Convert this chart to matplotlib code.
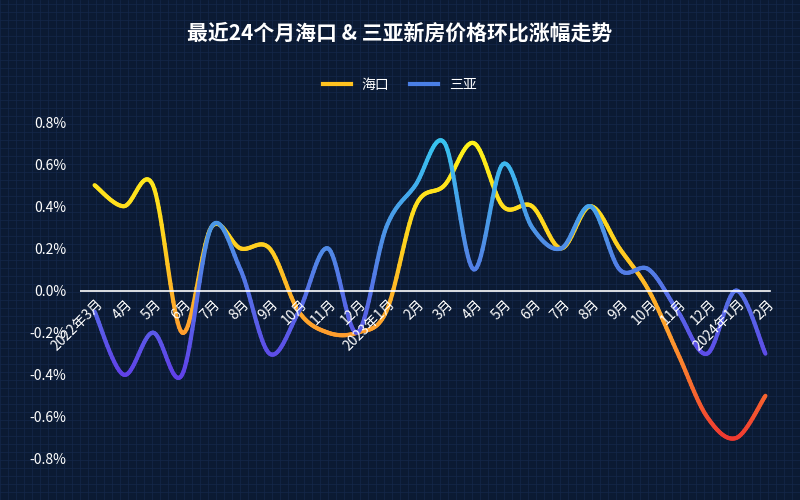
import numpy as np
import matplotlib
matplotlib.use('Agg')
import matplotlib.pyplot as plt
from matplotlib.collections import LineCollection
from matplotlib.colors import LinearSegmentedColormap
from matplotlib.lines import Line2D

plt.rcParams['font.family'] = ['Noto Sans CJK SC', 'DejaVu Sans']

months = ['2022年3月', '4月', '5月', '6月', '7月', '8月', '9月', '10月', '11月', '12月',
          '2023年1月', '2月', '3月', '4月', '5月', '6月', '7月', '8月', '9月', '10月', '11月', '12月',
          '2024年1月', '2月']
haikou = [0.5, 0.4, 0.5, -0.2, 0.3, 0.2, 0.2, -0.1, -0.2, -0.2, -0.1, 0.4, 0.5, 0.7,
          0.4, 0.4, 0.2, 0.4, 0.2, 0.0, -0.3, -0.6, -0.7, -0.5]
sanya = [-0.1, -0.4, -0.2, -0.4, 0.3, 0.1, -0.3, -0.1, 0.2, -0.2, 0.3, 0.5, 0.7, 0.1,
         0.6, 0.3, 0.2, 0.4, 0.1, 0.1, -0.1, -0.3, 0.0, -0.3]
yticks = [-0.8, -0.6, -0.4, -0.2, 0.0, 0.2, 0.4, 0.6, 0.8]

bg = '#0b1a33'


def smooth(x, y, n=20):
    # catmull-rom 插值
    x = np.asarray(x, float); y = np.asarray(y, float)
    px = np.concatenate([[x[0]], x, [x[-1]]])
    py = np.concatenate([[y[0]], y, [y[-1]]])
    xs, ys = [], []
    t = np.linspace(0, 1, n, endpoint=False)
    for i in range(1, len(px) - 2):
        for arr, out in ((px, xs), (py, ys)):
            p0, p1, p2, p3 = arr[i - 1], arr[i], arr[i + 1], arr[i + 2]
            out.extend(0.5 * (2 * p1 + (-p0 + p2) * t + (2 * p0 - 5 * p1 + 4 * p2 - p3) * t ** 2
                              + (-p0 + 3 * p1 - 3 * p2 + p3) * t ** 3))
    xs.append(x[-1]); ys.append(y[-1])
    return np.array(xs), np.array(ys)


def grad_line(ax, x, y, cmap):
    sx, sy = smooth(x, y)
    pts = np.column_stack([sx, sy]).reshape(-1, 1, 2)
    segs = np.concatenate([pts[:-1], pts[1:]], axis=1)
    lc = LineCollection(segs, cmap=cmap, norm=plt.Normalize(-0.7, 0.7), linewidth=3,
                        capstyle='round', joinstyle='round', clip_on=False)
    lc.set_array((sy[:-1] + sy[1:]) / 2)
    ax.add_collection(lc)


fig = plt.figure(figsize=(8, 5), dpi=100, facecolor=bg)
ax = fig.add_axes([0.1, 0.082, 0.875, 0.674])
ax.patch.set_alpha(0)

# 背景网格纹理
for v in np.arange(0, 1, 0.01):
    fig.add_artist(Line2D([v, v], [0, 1], color='#14284a', lw=0.5, zorder=-5))
for v in np.arange(0, 1, 0.016):
    fig.add_artist(Line2D([0, 1], [v, v], color='#14284a', lw=0.5, zorder=-5))

x = np.arange(len(months))
hk_cmap = LinearSegmentedColormap.from_list('hk', ['#f03a30', '#ff9a2e', '#ffd21f', '#fff21a'])
sy_cmap = LinearSegmentedColormap.from_list('sy', ['#6a1fe8', '#5b55e8', '#4f8fe6', '#38c3f0'])
grad_line(ax, x, haikou, hk_cmap)
grad_line(ax, x, sanya, sy_cmap)

ax.axhline(0, color='white', lw=1.2, xmax=0.985)
ax.set_xlim(-0.5, len(months) - 0.5)
ax.set_ylim(-0.8, 0.8)
ax.set_yticks(yticks)
ax.set_yticklabels([f'{abs(v):.1f}%' if v == 0 else f'{v:.1f}%' for v in yticks],
                   color='white', fontsize=10)
ax.tick_params(axis='y', length=0, pad=10)
ax.set_xticks([])
for s in ax.spines.values():
    s.set_visible(False)

for i, m in enumerate(months):
    ax.text(i + 0.05, -0.03, m, rotation=45, ha='right', va='top', color='white',
            fontsize=10, rotation_mode='anchor')

fig.text(0.5, 0.935, '最近24个月海口 & 三亚新房价格环比涨幅走势', ha='center', va='center',
         color='white', fontsize=15, fontweight='bold')

handles = [Line2D([], [], color='#ffc21f', lw=3), Line2D([], [], color='#4a7fe6', lw=3)]
fig.legend(handles, ['海口', '三亚'], loc='center', bbox_to_anchor=(0.5, 0.83), ncol=2,
           frameon=False, labelcolor='white', fontsize=10, handlelength=2, columnspacing=1.5)

fig.savefig('out.png', facecolor=bg)
